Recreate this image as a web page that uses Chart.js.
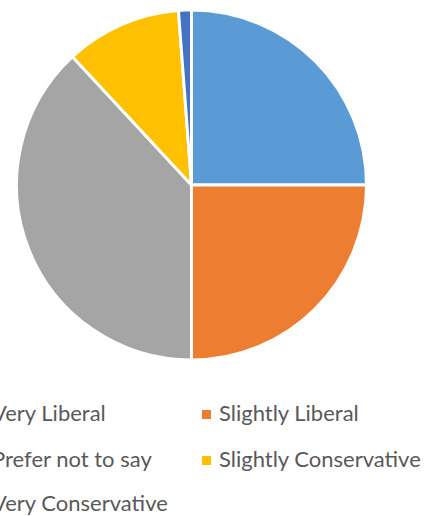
<!DOCTYPE html>
<html>
<head>
<meta charset="utf-8">
<script src="https://cdn.jsdelivr.net/npm/chart.js@4.4.1/dist/chart.umd.min.js"></script>
<style>
  html, body { margin: 0; padding: 0; background: #fff; overflow: hidden; }
  #wrap { position: relative; width: 436px; height: 516px; }
  #chartBox { position: absolute; left: 0; top: 0; width: 436px; height: 372px; }
  .legend-item {
    position: absolute;
    font-family: Lato, "Open Sans", sans-serif;
    font-size: 22px;
    color: #595959;
    white-space: nowrap;
    line-height: 1;
  }
  .legend-item .box {
    display: inline-block;
    width: 9px;
    height: 9px;
    margin-right: 8px;
    vertical-align: middle;
    position: relative;
    top: -1px;
  }
</style>
</head>
<body>
<div id="wrap">
  <div id="chartBox"><canvas id="pieChart"></canvas></div>
  <div id="legend"></div>
</div>
<script>
const categories = [
  "Very Liberal",
  "Slightly Liberal",
  "Prefer not to say",
  "Slightly Conservative",
  "Very Conservative",
];
const responses = [21, 21, 32, 9, 1];
const colors = ["#5B9BD5", "#ED7D31", "#A5A5A5", "#FFC000", "#4472C4"];

const ctx = document.getElementById("pieChart").getContext("2d");
const pieChart = new Chart(ctx, {
  type: "pie",
  data: {
    labels: categories,
    datasets: [
      {
        data: responses,
        backgroundColor: colors,
        borderColor: "#ffffff",
        borderWidth: 3,
      },
    ],
  },
  options: {
    responsive: true,
    maintainAspectRatio: false,
    animation: false,
    layout: {
      padding: { left: 15, right: 68, top: 8, bottom: 10 },
    },
    plugins: {
      legend: { display: false },
      tooltip: { enabled: false },
    },
  },
});

// Legend laid out in two columns, like the original
const legend = document.getElementById("legend");
const colX = [-25, 202];
const rowY = [413, 459, 503];
categories.forEach((name, i) => {
  const item = document.createElement("div");
  item.className = "legend-item";
  item.style.left = colX[i % 2] + "px";
  item.style.top = rowY[Math.floor(i / 2)] - 11 + "px";
  item.innerHTML =
    '<span class="box" style="background:' + colors[i] + '"></span>' + name;
  legend.appendChild(item);
});
</script>
</body>
</html>
